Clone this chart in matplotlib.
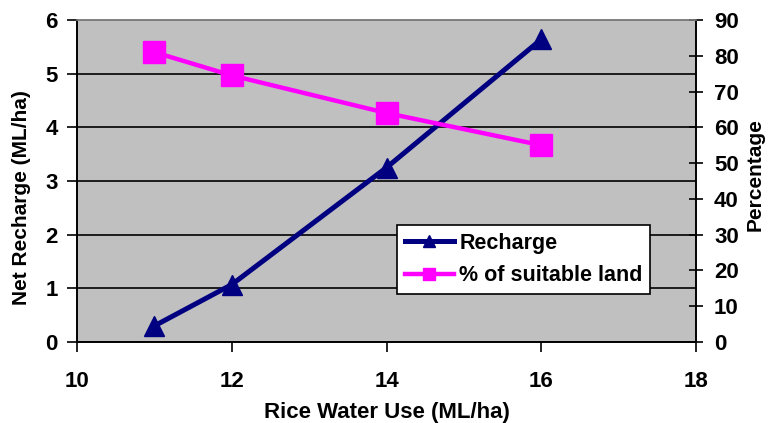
import matplotlib
matplotlib.use('Agg')
import matplotlib.pyplot as plt
from matplotlib.lines import Line2D

plt.rcParams['font.family'] = ['Liberation Sans', 'DejaVu Sans']
plt.rcParams['font.weight'] = 'bold'

# data
water_use = [11, 12, 14, 16]
recharge = [0.3, 1.07, 3.25, 5.64]
suitable_pct = [81, 74.5, 64, 55]

x_ticks = [10, 12, 14, 16, 18]
left_ticks = [0, 1, 2, 3, 4, 5, 6]
right_ticks = [0, 10, 20, 30, 40, 50, 60, 70, 80, 90]

navy = '#000080'
magenta = '#FF00FF'

fig = plt.figure(figsize=(7.72, 4.23), dpi=100)
ax = fig.add_axes([0.0997, 0.1915, 0.8019, 0.7612])
ax.set_facecolor('#C0C0C0')

ax.set_xlim(10, 18)
ax.set_ylim(0, 6)
ax.set_xticks(x_ticks)
ax.set_yticks(left_ticks)
ax.yaxis.grid(True, color='black', linewidth=1.2)
ax.set_axisbelow(True)

ax.plot(water_use, recharge, color=navy, lw=3.6, marker='^', ms=15,
        mec=navy, mfc=navy, zorder=3)

ax2 = ax.twinx()
ax2.set_ylim(0, 90)
ax2.set_yticks(right_ticks)
ax2.plot(water_use, suitable_pct, color=magenta, lw=3.2, marker='s', ms=16,
         mec=magenta, mfc=magenta, zorder=3)

for a in (ax, ax2):
    for s in a.spines.values():
        s.set_color('black')
        s.set_linewidth(1.2)
    a.spines['top'].set_color('#808080')
    a.tick_params(labelsize=16, width=1.2, length=7, pad=7)
ax.tick_params(axis='x', pad=14)
ax2.tick_params(axis='y', direction='inout', length=10, pad=8)

ax.set_xlabel('Rice Water Use (ML/ha)', fontsize=16, fontweight='bold')
ax.xaxis.set_label_coords(0.5, -0.185)
ax.set_ylabel('Net Recharge (ML/ha)', fontsize=15, fontweight='bold')
ax.yaxis.set_label_coords(-0.075, 0.45)
ax2.set_ylabel('Percentage', fontsize=15, fontweight='bold')
ax2.yaxis.set_label_coords(1.08, 0.52)

handles = [Line2D([], [], color=navy, lw=3.6, marker='^', ms=9),
           Line2D([], [], color=magenta, lw=3.2, marker='s', ms=9)]
leg = ax2.legend(handles, ['Recharge', '% of suitable land'],
                 loc='upper left', bbox_to_anchor=(0.517, 0.363),
                 frameon=True, fancybox=False, framealpha=1,
                 edgecolor='black', fontsize=15.5, handlelength=2.3,
                 handletextpad=0.25, borderaxespad=0, borderpad=0.35,
                 labelspacing=0.55)
leg.get_frame().set_linewidth(1.2)

fig.savefig('out.png', dpi=100)
